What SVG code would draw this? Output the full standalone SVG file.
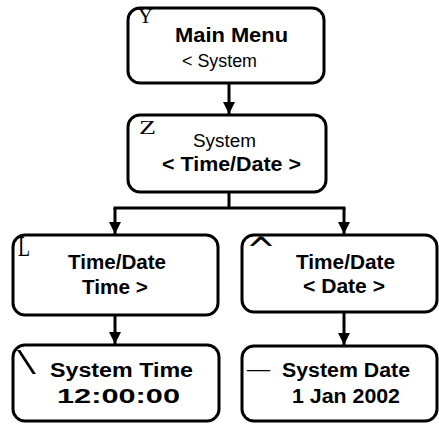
<svg xmlns="http://www.w3.org/2000/svg" width="439" height="425" viewBox="0 0 439 425">
<style>
.box{fill:#fff;stroke:#000;stroke-width:3}
.b{font-family:"Liberation Sans",Arial,sans-serif;font-weight:bold;font-size:20px;fill:#000}
.n{font-family:"Liberation Sans",Arial,sans-serif;font-size:18px;fill:#000}
.sym{font-family:"Liberation Serif","Times New Roman",serif;fill:#000}
.ln{fill:none;stroke:#000;stroke-width:3}
</style>
<defs>
<marker id="ah" markerUnits="userSpaceOnUse" markerWidth="13" markerHeight="12" refX="12" refY="6" orient="auto">
<path d="M0,0 L12,6 L0,12 z" fill="#000"/>
</marker>
</defs>
<rect width="439" height="425" fill="#fff"/>
<g id="connectors">
<path class="ln" d="M229,83V114" marker-end="url(#ah)"/>
<path class="ln" d="M229,192V208"/>
<path class="ln" d="M115,208H344" stroke-linecap="square"/>
<path class="ln" d="M115,208V234" marker-end="url(#ah)"/>
<path class="ln" d="M344,208V234" marker-end="url(#ah)"/>
<path class="ln" d="M115,315V344" marker-end="url(#ah)"/>
<path class="ln" d="M344,312V345" marker-end="url(#ah)"/>
</g>
<g id="main-menu">
<rect class="box" x="128" y="8" width="196" height="75" rx="12"/>
<text class="sym" x="138" y="23" font-size="22" textLength="15" lengthAdjust="spacingAndGlyphs">Y</text>
<text class="b" x="175" y="42" font-size="21" textLength="113" lengthAdjust="spacingAndGlyphs">Main Menu</text>
<text class="n" x="182" y="67" textLength="75" lengthAdjust="spacingAndGlyphs">&lt; System</text>
</g>
<g id="system">
<rect class="box" x="128" y="115" width="198" height="77" rx="12"/>
<text class="sym" x="139" y="134" font-size="19" textLength="17" lengthAdjust="spacingAndGlyphs">Z</text>
<text class="n" x="193" y="147" font-size="19" textLength="63" lengthAdjust="spacingAndGlyphs">System</text>
<text class="b" x="162" y="171" textLength="139" lengthAdjust="spacingAndGlyphs">&lt; Time/Date &gt;</text>
</g>
<g id="timedate-time">
<rect class="box" x="13" y="235" width="205" height="80" rx="12"/>
<text class="sym" x="18" y="256" font-size="29" textLength="12" lengthAdjust="spacingAndGlyphs">L</text>
<text class="b" x="68" y="269" textLength="98" lengthAdjust="spacingAndGlyphs">Time/Date</text>
<text class="b" x="82" y="294" textLength="66" lengthAdjust="spacingAndGlyphs">Time &gt;</text>
</g>
<g id="timedate-date">
<rect class="box" x="242" y="235" width="195" height="77" rx="12"/>
<text x="246" y="262" font-family="DejaVu Sans, sans-serif" font-size="36" textLength="30" lengthAdjust="spacingAndGlyphs">^</text>
<text class="b" x="296" y="269" textLength="99" lengthAdjust="spacingAndGlyphs">Time/Date</text>
<text class="b" x="303" y="293" textLength="82" lengthAdjust="spacingAndGlyphs">&lt; Date &gt;</text>
</g>
<g id="system-time">
<rect class="box" x="13" y="345" width="206" height="76" rx="12"/>
<text class="sym" x="17" y="374" font-size="36" textLength="19" lengthAdjust="spacingAndGlyphs">\</text>
<text class="b" x="50" y="377" textLength="143" lengthAdjust="spacingAndGlyphs">System Time</text>
<text class="b" x="57" y="403" textLength="123" lengthAdjust="spacingAndGlyphs">12:00:00</text>
</g>
<g id="system-date">
<rect class="box" x="242" y="346" width="195" height="75" rx="12"/>
<text class="sym" x="247" y="376" font-size="23" textLength="23" lengthAdjust="spacingAndGlyphs">—</text>
<text class="b" x="282" y="377" textLength="128" lengthAdjust="spacingAndGlyphs">System Date</text>
<text class="b" x="292" y="403" textLength="108" lengthAdjust="spacingAndGlyphs">1 Jan 2002</text>
</g>
</svg>
